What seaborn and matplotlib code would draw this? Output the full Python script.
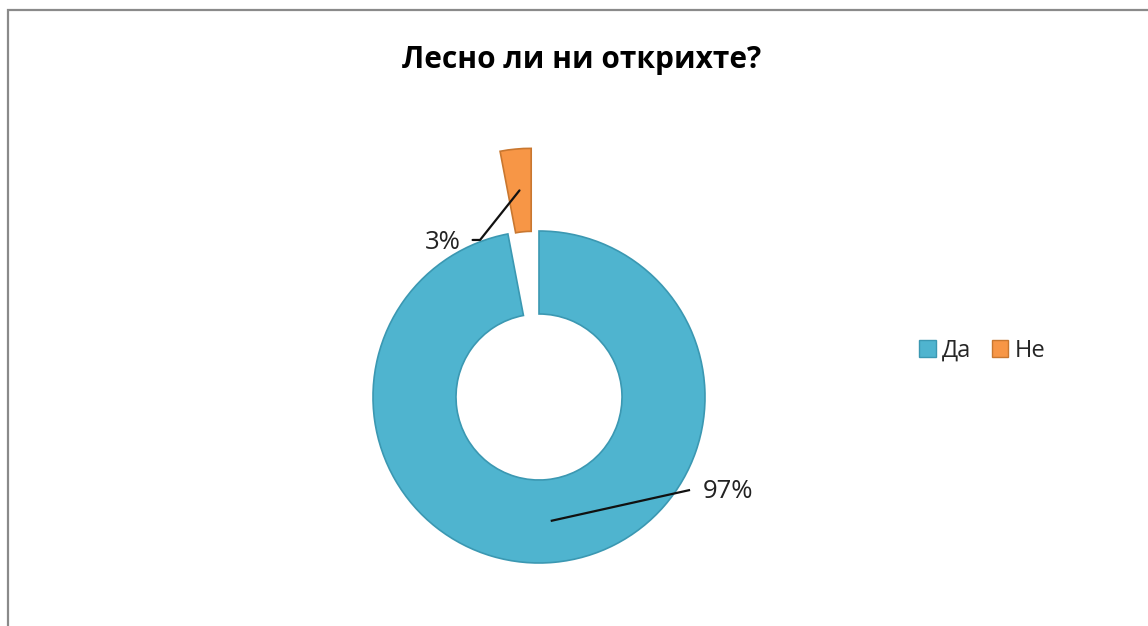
import numpy as np
import matplotlib
matplotlib.use("Agg")
import matplotlib.pyplot as plt
from matplotlib.patches import Patch, Rectangle
import seaborn as sns

# ---- data ----
title = "Лесно ли ни открихте?"
categories = ["Да", "Не"]
values = [97, 3]
pct_labels = ["97%", "3%"]

# ---- style ----
sns.set_theme(style="white")
plt.rcParams["font.family"] = ["Open Sans", "DejaVu Sans"]
colors = ["#4FB4CF", "#F79646"]
edges = ["#3B98B2", "#C9772F"]

W, H = 1148, 626
fig = plt.figure(figsize=(W / 100, H / 100), dpi=100)
fig.patch.set_facecolor("white")

# chart frame (only top and left visible)
fig.add_artist(Rectangle((8 / W, -0.1), 1.2, 1.1 - 10 / H, transform=fig.transFigure,
                         fill=False, edgecolor="#8A8A8A", lw=1.6))

# axes placed so that the ring centre/radius match the reference
R = 166.0
cx, cy = 539.0, H - 397.0
xl, xr, yb, yt = -1.7, 1.7, -1.3, 2.0
ax = fig.add_axes([(cx + xl * R) / W, (cy + yb * R) / H, (xr - xl) * R / W, (yt - yb) * R / H])

explode = [0, 0.5]
wedges, _ = ax.pie(values, startangle=90, counterclock=False, explode=explode,
                   colors=colors, radius=1.0,
                   wedgeprops=dict(width=0.5, linewidth=1.2))
for w, ec in zip(wedges, edges):
    w.set_edgecolor(ec)
ax.set_xlim(xl, xr)
ax.set_ylim(yb, yt)
ax.set_aspect("equal", adjustable="box")
ax.axis("off")

# data labels with leader lines (Excel style)
def anchor(w):
    th = np.deg2rad((w.theta1 + w.theta2) / 2)
    c = w.center
    return c[0] + 0.75 * np.cos(th), c[1] + 0.75 * np.sin(th)

# 97%
ax0, ay0 = anchor(wedges[0])
ax.plot([ax0, 0.91], [ay0, -0.56], color="#111111", lw=1.6, solid_capstyle="butt")
ax.text(0.985, -0.57, pct_labels[0], ha="left", va="center", fontsize=18.5, color="#222222")
# 3%
ax1, ay1 = anchor(wedges[1])
ax.plot([ax1, -0.355, -0.40], [ay1, 0.946, 0.946], color="#111111", lw=1.6)
ax.text(-0.47, 0.93, pct_labels[1], ha="right", va="center", fontsize=18.5, color="#222222")

# title
fig.text(582 / W, 1 - 60 / H, title, ha="center", va="center", fontsize=21.5,
         fontweight="bold", color="#000000")

# legend
handles = [Patch(facecolor=c, edgecolor=e, label=l) for c, e, l in zip(colors, edges, categories)]
fig.legend(handles=handles, loc="center left", bbox_to_anchor=(919 / W, 1 - 351 / H),
           ncol=2, frameon=False, fontsize=17, handlelength=0.7, handleheight=0.7,
           handletextpad=0.25, columnspacing=0.9, borderaxespad=0, borderpad=0)

fig.savefig("out.png", dpi=100, facecolor="white")
